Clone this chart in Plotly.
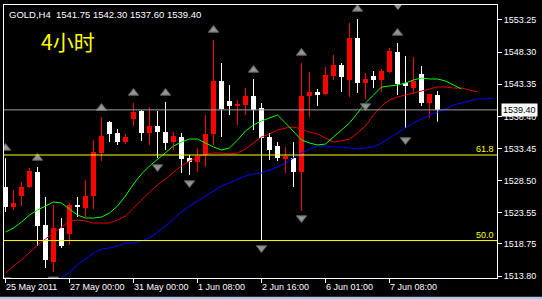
import plotly.graph_objects as go

symbol = "GOLD,H4"
period_label = "4小时"

bar_index = list(range(55))
open_ = [1527.52, 1524.44, 1526.13, 1527.52, 1529.83, 1521.66, 1515.96, 1521.20, 1520.28, 1524.74,
         1524.28, 1526.13, 1532.76, 1537.53, 1535.84, 1534.45, 1537.99, 1539.23, 1535.84, 1536.92,
         1535.99, 1534.45, 1535.22, 1531.99, 1531.37, 1532.45, 1535.68, 1543.85, 1540.77, 1540.00,
         1540.15, 1541.54, 1539.69, 1535.22, 1533.84, 1531.83, 1531.99, 1529.83, 1541.54, 1542.16,
         1541.85, 1544.62, 1546.32, 1544.01, 1550.48, 1543.54, 1544.62, 1544.01, 1545.24, 1548.32,
         1543.54, 1542.77, 1544.93, 1540.46, 1541.75]
high = [1531.99, 1527.06, 1528.29, 1530.45, 1530.60, 1525.98, 1524.74, 1522.74, 1525.05, 1525.98,
        1528.60, 1534.76, 1538.30, 1537.69, 1536.46, 1535.68, 1540.46, 1539.38, 1539.84, 1539.23,
        1540.62, 1535.99, 1535.84, 1532.45, 1533.53, 1538.61, 1550.17, 1546.62, 1543.23, 1540.92,
        1542.77, 1544.16, 1540.46, 1535.84, 1534.45, 1533.68, 1534.45, 1546.62, 1545.24, 1542.62,
        1546.01, 1547.86, 1546.62, 1552.79, 1553.40, 1545.08, 1545.39, 1545.70, 1548.94, 1549.71,
        1547.70, 1547.55, 1546.16, 1541.85, 1542.30]
low = [1523.67, 1523.97, 1524.59, 1527.36, 1518.43, 1515.04, 1514.42, 1518.12, 1518.58, 1522.90,
       1522.90, 1524.13, 1531.52, 1534.45, 1533.99, 1534.14, 1536.92, 1534.61, 1533.99, 1531.99,
       1533.22, 1533.22, 1529.68, 1529.37, 1529.83, 1530.60, 1533.99, 1535.22, 1538.61, 1537.07,
       1538.61, 1536.30, 1519.35, 1531.68, 1531.52, 1529.68, 1527.52, 1523.82, 1538.30, 1540.00,
       1541.69, 1544.01, 1542.16, 1541.39, 1542.00, 1541.08, 1542.77, 1542.16, 1545.08, 1541.69,
       1536.61, 1541.85, 1540.00, 1538.15, 1537.60]
close = [1524.44, 1525.05, 1527.52, 1529.98, 1521.51, 1516.27, 1521.20, 1518.43, 1524.74, 1524.44,
         1526.13, 1532.91, 1535.38, 1535.68, 1534.45, 1535.22, 1539.07, 1535.84, 1536.92, 1535.99,
         1534.30, 1535.38, 1531.83, 1531.37, 1532.30, 1535.68, 1543.85, 1539.54, 1540.00, 1540.31,
         1541.54, 1539.38, 1535.07, 1533.22, 1531.99, 1532.30, 1529.83, 1541.54, 1542.16, 1541.69,
         1544.78, 1546.32, 1544.47, 1550.48, 1543.54, 1544.16, 1544.01, 1545.39, 1548.47, 1543.39,
         1543.08, 1543.85, 1540.46, 1541.85, 1539.40]

# Alligator lines (already shifted forward)
jaw_start = 6
jaw = [1512.42, 1513.50, 1514.42, 1515.50, 1516.42, 1517.35, 1517.96, 1518.12, 1518.43, 1518.89,
       1518.89, 1519.20, 1519.66, 1520.58, 1521.51, 1522.59, 1523.67, 1524.59, 1525.36, 1526.13,
       1526.90, 1527.67, 1528.13, 1528.75, 1529.21, 1529.52, 1529.68, 1530.14, 1530.60, 1531.22,
       1531.99, 1532.76, 1533.37, 1533.84, 1533.84, 1533.68, 1533.68, 1533.53, 1533.37, 1533.53,
       1533.68, 1534.30, 1535.07, 1535.84, 1536.61, 1537.38, 1537.99, 1538.61, 1539.07, 1539.54,
       1540.15, 1540.46, 1540.77, 1541.08, 1541.08, 1541.23]
teeth_start = 0
teeth = [1514.27, 1515.35, 1516.27, 1517.50, 1518.58, 1519.51, 1520.43, 1521.36, 1522.28, 1522.43,
         1522.28, 1521.97, 1521.97, 1521.97, 1522.43, 1523.05, 1524.28, 1525.52, 1526.75, 1527.83,
         1528.75, 1529.83, 1530.75, 1531.52, 1532.14, 1532.60, 1532.76, 1532.76, 1532.60, 1532.76,
         1533.37, 1534.30, 1535.22, 1535.68, 1536.30, 1536.61, 1536.76, 1536.46, 1535.99, 1535.68,
         1535.07, 1534.45, 1534.61, 1534.91, 1535.84, 1536.92, 1538.61, 1540.00, 1540.92, 1541.39,
         1541.69, 1542.00, 1542.31, 1542.62, 1542.93, 1542.93, 1542.77, 1542.77, 1542.46, 1542.16]
lips_start = 0
lips = [1520.58, 1521.20, 1522.12, 1523.20, 1523.97, 1524.59, 1525.21, 1525.05, 1524.13, 1523.20,
        1522.74, 1522.74, 1522.90, 1523.51, 1524.59, 1526.13, 1527.98, 1529.52, 1530.75, 1531.83,
        1532.91, 1533.84, 1534.45, 1534.91, 1534.91, 1534.30, 1533.68, 1533.22, 1533.53, 1534.76,
        1536.15, 1537.07, 1537.69, 1538.15, 1538.61, 1537.38, 1536.15, 1534.76, 1534.30, 1533.99,
        1534.14, 1535.22, 1536.30, 1537.38, 1538.92, 1540.46, 1541.69, 1542.93, 1543.08, 1543.23,
        1543.54, 1544.01, 1544.31, 1544.16, 1544.16, 1543.85, 1543.23, 1542.62]

# Fractals
fractal_up_bars = [0, 4, 12, 16, 20, 26, 31, 37, 44, 49]
fractal_up_price = [1533.53, 1531.99, 1539.69, 1542.00, 1542.00, 1551.71, 1545.55, 1548.17, 1554.94, 1551.25]
fractal_dn_bars = [0, 6, 19, 23, 32, 37, 45, 50]
fractal_dn_price = [1513.20, 1513.30, 1530.60, 1528.13, 1518.12, 1522.74, 1540.00, 1534.76]

# Fibonacci levels and bid
fib_levels = [1532.45, 1519.27]
fib_labels = ["61.8", "50.0"]
bid = close[-1]

y_tick_vals = [1553.25, 1548.30, 1543.35, 1538.40, 1533.45, 1528.50, 1523.55, 1518.75, 1513.80]
y_tick_text = ["1553.25", "1548.30", "1543.35", "1538.40", "1533.45", "1528.50", "1523.55", "1518.75", "1513.80"]
x_tick_bars = [0, 8, 16, 24, 32, 40, 48]
x_tick_labels = ["25 May 2011", "27 May 00:00", "31 May 00:00", "1 Jun 08:00",
                 "2 Jun 16:00", "6 Jun 01:00", "7 Jun 08:00"]

UP_COLOR = "#FF0000"
DN_COLOR = "#FFFFFF"
FONT = "Liberation Sans"

fig = go.Figure()

for is_up, color in [(True, UP_COLOR), (False, DN_COLOR)]:
    idx = [i for i in bar_index if (close[i] > open_[i]) == is_up]
    wx, wy = [], []
    for i in idx:
        wx += [i, i, None]
        wy += [low[i], high[i], None]
    fig.add_trace(go.Scatter(x=wx, y=wy, mode="lines", line=dict(color=color, width=1),
                             hoverinfo="skip", showlegend=False))
    fig.add_trace(go.Bar(x=idx,
                         y=[max(abs(close[i] - open_[i]), 0.12) for i in idx],
                         base=[min(close[i], open_[i]) for i in idx],
                         width=0.68, marker=dict(color=color, line=dict(width=0)),
                         showlegend=False, hoverinfo="skip"))

for start, vals, color in [(jaw_start, jaw, "#0000FF"), (teeth_start, teeth, "#E00000"),
                           (lips_start, lips, "#00FF00")]:
    fig.add_trace(go.Scatter(x=list(range(start, start + len(vals))), y=vals, mode="lines",
                             line=dict(color=color, width=1), showlegend=False, hoverinfo="skip"))

fig.add_trace(go.Scatter(x=fractal_up_bars, y=fractal_up_price, mode="markers",
                         marker=dict(symbol="triangle-up", size=9, color="#939393",
                                     line=dict(width=1, color="#5E5E5E")),
                         showlegend=False, hoverinfo="skip"))
fig.add_trace(go.Scatter(x=fractal_dn_bars, y=fractal_dn_price, mode="markers",
                         marker=dict(symbol="triangle-down", size=9, color="#939393",
                                     line=dict(width=1, color="#5E5E5E")),
                         showlegend=False, hoverinfo="skip"))

shapes = []
for lv in fib_levels:
    shapes.append(dict(type="line", xref="paper", x0=0, x1=1, yref="y", y0=lv, y1=lv,
                       line=dict(color="#FFFF00", width=1)))
shapes.append(dict(type="line", xref="paper", x0=0, x1=1, yref="y", y0=bid, y1=bid,
                   line=dict(color="#A0A0A0", width=1)))
# chart shift marker
shapes.append(dict(type="path", xref="paper", yref="paper",
                   path="M 0.791 1 L 0.807 1 L 0.799 0.982 Z",
                   fillcolor="#8C8C8C", line=dict(width=0)))
# window bottom strip
shapes.append(dict(type="rect", xref="paper", yref="paper", x0=-0.02, x1=1.1,
                   y0=-0.0775, y1=-0.069, fillcolor="#A9C6EE", line=dict(width=0)))

annotations = []
annotations.append(dict(
    text=f"{symbol}\u00a0 {open_[-1]:.2f} {high[-1]:.2f} {low[-1]:.2f} {close[-1]:.2f}",
    xref="paper", yref="paper", x=0.006, y=0.967, xanchor="left", yanchor="middle",
    showarrow=False, font=dict(family=FONT, size=9.5, color="#FFFFFF")))
annotations.append(dict(text=period_label, xref="paper", yref="paper", x=0.07, y=0.868,
                        xanchor="left", yanchor="middle", showarrow=False,
                        font=dict(family="Noto Sans CJK SC", size=21, color="#FFFF00")))
for lv, lab in zip(fib_levels, fib_labels):
    annotations.append(dict(text=lab, xref="paper", yref="y", x=1, y=lv, xanchor="right",
                            yanchor="bottom", xshift=-1, yshift=-1, showarrow=False,
                            font=dict(family=FONT, size=9, color="#FFFF00")))
annotations.append(dict(text=f"{bid:.2f}", xref="paper", yref="y", x=1, y=bid, xanchor="left",
                        yanchor="middle", xshift=4, showarrow=False, bgcolor="#FFFFFF",
                        borderpad=1, font=dict(family=FONT, size=9, color="#000000")))
for b, lab in zip(x_tick_bars, x_tick_labels):
    annotations.append(dict(text=lab, xref="x", yref="paper", x=b, y=0, xanchor="left",
                            yanchor="middle", xshift=-2, yshift=-9, showarrow=False,
                            font=dict(family=FONT, size=9, color="#FFFFFF")))

fig.update_layout(
    width=542, height=299,
    margin=dict(l=4, r=45, t=5, b=21),
    paper_bgcolor="#000000", plot_bgcolor="#000000",
    barmode="overlay", bargap=0,
    shapes=shapes, annotations=annotations,
    xaxis=dict(range=[-0.1875, 61.4375], showgrid=False, zeroline=False,
               showline=True, mirror=True, linecolor="#FFFFFF", linewidth=1,
               tickvals=x_tick_bars, ticktext=[""] * len(x_tick_bars),
               ticks="outside", ticklen=4, tickcolor="#FFFFFF", fixedrange=True),
    yaxis=dict(range=[1513.50, 1555.56], side="right", showgrid=False, zeroline=False,
               showline=True, mirror=True, linecolor="#FFFFFF", linewidth=1,
               tickvals=y_tick_vals, ticktext=y_tick_text,
               ticks="outside", ticklen=4, tickcolor="#FFFFFF",
               tickfont=dict(family=FONT, size=9, color="#FFFFFF"), fixedrange=True),
)

fig.write_html("out.html")
